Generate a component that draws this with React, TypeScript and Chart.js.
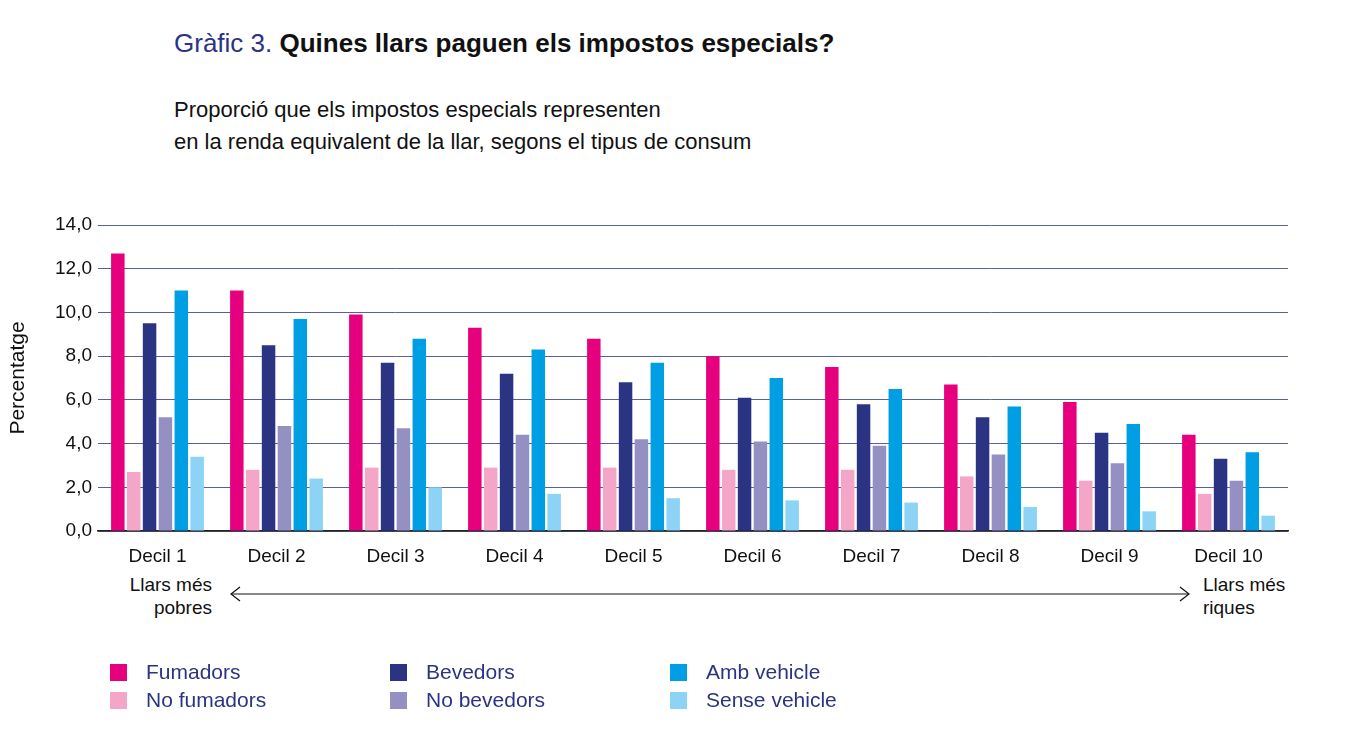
import React, { useEffect, useRef } from "react";
import { Chart, registerables } from "chart.js";
Chart.register(...registerables);

const categories = ["Decil 1","Decil 2","Decil 3","Decil 4","Decil 5","Decil 6","Decil 7","Decil 8","Decil 9","Decil 10"];
const fumadors = [12.7,11.0,9.9,9.3,8.8,8.0,7.5,6.7,5.9,4.4];
const noFumadors = [2.7,2.8,2.9,2.9,2.9,2.8,2.8,2.5,2.3,1.7];
const bevedors = [9.5,8.5,7.7,7.2,6.8,6.1,5.8,5.2,4.5,3.3];
const noBevedors = [5.2,4.8,4.7,4.4,4.2,4.1,3.9,3.5,3.1,2.3];
const ambVehicle = [11.0,9.7,8.8,8.3,7.7,7.0,6.5,5.7,4.9,3.6];
const senseVehicle = [3.4,2.4,2.0,1.7,1.5,1.4,1.3,1.1,0.9,0.7];

const series = [
  { label: "Fumadors", data: fumadors, color: "#e6007e" },
  { label: "No fumadors", data: noFumadors, color: "#f4a6c8" },
  { label: "Bevedors", data: bevedors, color: "#2b3483" },
  { label: "No bevedors", data: noBevedors, color: "#9590c2" },
  { label: "Amb vehicle", data: ambVehicle, color: "#009fe3" },
  { label: "Sense vehicle", data: senseVehicle, color: "#8dd3f5" },
];
const legendOrder = [[0, 1], [2, 3], [4, 5]];
const font = "'Liberation Sans', Arial, sans-serif";

export default function App() {
  const ref = useRef<HTMLCanvasElement>(null);
  useEffect(() => {
    const chart = new Chart(ref.current!, {
      type: "bar",
      data: {
        labels: categories,
        datasets: series.map((s) => ({ label: s.label, data: s.data, backgroundColor: s.color, barPercentage: 0.85, categoryPercentage: 0.8 })),
      },
      options: {
        animation: false,
        responsive: false,
        layout: { padding: { left: 6, right: 12, top: 20, bottom: 0 } },
        plugins: { legend: { display: false }, tooltip: { enabled: false } },
        scales: {
          x: {
            grid: { display: false },
            border: { color: "#222", width: 1.5 },
            ticks: { color: "#111", font: { family: font, size: 19 }, padding: 6 },
            afterFit: (s: any) => { s.height = 36; },
          },
          y: {
            min: 0, max: 14,
            ticks: { stepSize: 2, color: "#111", font: { family: font, size: 19 }, callback: (v: any) => Number(v).toFixed(1).replace(".", ","), padding: 6 },
            grid: { color: "#5a5fa0", lineWidth: 1, drawTicks: false },
            border: { display: false },
            title: { display: true, text: "Percentatge", color: "#111", font: { family: font, size: 21 }, padding: 0 },
            afterFit: (s: any) => { s.width = 92; },
          },
        },
      },
    });
    return () => chart.destroy();
  }, []);
  return (
    <div style={{ position: "relative", width: 1346, height: 745, margin: -8, background: "#fff", fontFamily: font, overflow: "hidden" }}>
      <div style={{ position: "absolute", left: 174, top: 28, fontSize: 26, color: "#111" }}>
        <span style={{ color: "#2b3483" }}>Gràfic 3. </span><b>Quines llars paguen els impostos especials?</b>
      </div>
      <div style={{ position: "absolute", left: 174, top: 94, fontSize: 22, lineHeight: "32px", color: "#111" }}>
        Proporció que els impostos especials representen<br />en la renda equivalent de la llar, segons el tipus de consum
      </div>
      <canvas ref={ref} width={1300} height={362} style={{ position: "absolute", left: 0, top: 205 }} />
      <div style={{ position: "absolute", left: 100, top: 573, width: 112, textAlign: "right", fontSize: 19, lineHeight: "23px", color: "#111" }}>Llars més<br />pobres</div>
      <div style={{ position: "absolute", left: 1203, top: 573, fontSize: 19, lineHeight: "23px", color: "#111" }}>Llars més<br />riques</div>
      <svg style={{ position: "absolute", left: 0, top: 0 }} width={1346} height={745}>
        <line x1={232} y1={594} x2={1188} y2={594} stroke="#111" strokeWidth={1.2} />
        <polyline points="240,587 231,594 240,601" fill="none" stroke="#111" strokeWidth={1.2} />
        <polyline points="1180,587 1189,594 1180,601" fill="none" stroke="#111" strokeWidth={1.2} />
      </svg>
      {legendOrder.map((col, ci) => col.map((si, ri) => (
        <div key={si} style={{ position: "absolute", left: 110 + ci * 280, top: 660 + ri * 28, display: "flex", alignItems: "center", fontSize: 21, color: "#2b3483" }}>
          <span style={{ width: 17, height: 17, background: series[si].color, display: "inline-block", marginRight: 19 }} />
          {series[si].label}
        </div>
      )))}
    </div>
  );
}
